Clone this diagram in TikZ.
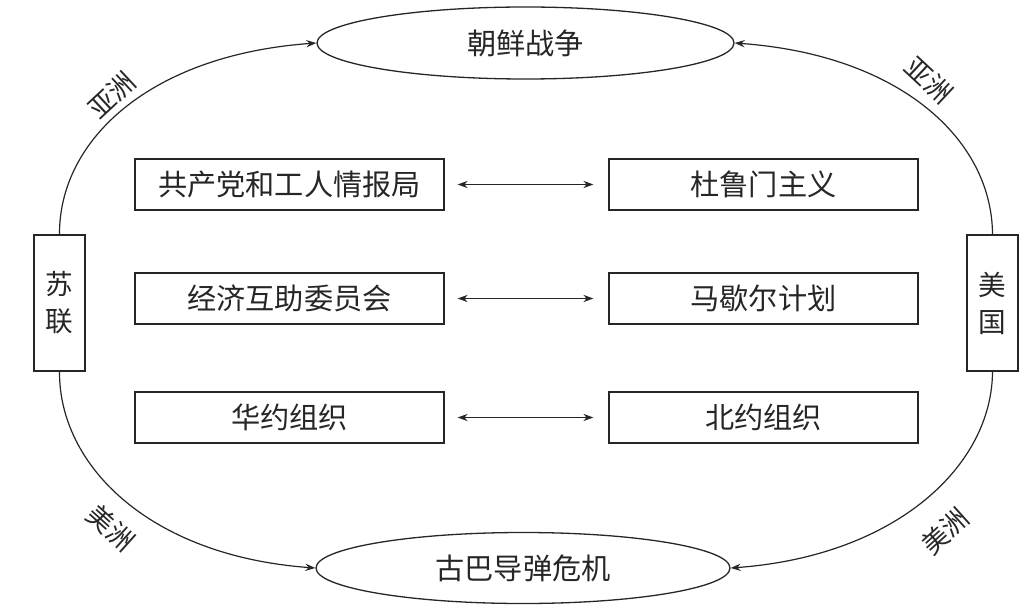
\documentclass[tikz,border=0pt]{standalone}
\usepackage{fontspec}
\newfontfamily\cjk{Noto Sans CJK SC}
\usetikzlibrary{shapes.geometric,arrows.meta}
\begin{document}
\begin{tikzpicture}[x=0.5pt,y=-0.5pt,
  every node/.style={text=black!85, font=\cjk\fontsize{14.6pt}{17pt}\selectfont},
  ell/.style={draw=black!85, ellipse, line width=0.65pt, inner sep=0pt},
  side/.style={draw=black!85, rectangle, line width=0.65pt, minimum width=25.5pt, minimum height=68pt, inner sep=0pt, align=center, font=\cjk\fontsize{13.8pt}{18.5pt}\selectfont},
  box/.style={draw=black!85, rectangle, line width=0.65pt, minimum width=154.5pt, minimum height=25.5pt, inner sep=0pt},
  lab/.style={inner sep=0pt, font=\cjk\fontsize{13.2pt}{14pt}\selectfont},
  arr/.style={draw=black!85, line width=0.6pt, -{Stealth[length=5pt,width=3.6pt]}},
  dbl/.style={draw=black!85, line width=0.6pt, {Stealth[length=5pt,width=3.6pt]}-{Stealth[length=5pt,width=3.6pt]}, shorten <=6.5pt, shorten >=7.5pt}
]
\useasboundingbox (0,0) rectangle (1032,609);
\node[ell, minimum width=208.5pt, minimum height=36pt] (korea) at (525.5,43) {朝鲜战争};
\node[ell, minimum width=207pt, minimum height=35.5pt] (cuba) at (523,568) {古巴导弹危机};
\node[side] (su) at (59.5,303) {苏\\联};
\node[side] (us) at (992.5,303) {美\\国};
\node[box] (l1) at (289.5,184.5) {共产党和工人情报局};
\node[box] (l2) at (289.5,298.5) {经济互助委员会};
\node[box] (l3) at (289.5,417.5) {华约组织};
\node[box] (r1) at (763.5,184.5) {杜鲁门主义};
\node[box] (r2) at (763.5,298.5) {马歇尔计划};
\node[box] (r3) at (763.5,417.5) {北约组织};
\draw[dbl] (l1) -- (r1);
\draw[dbl] (l2) -- (r2);
\draw[dbl] (l3) -- (r3);
\draw[arr] (su.north) .. controls (59,140) and (150,55) .. (korea.west);
\draw[arr] (us.north) .. controls (992,140) and (901,55) .. (korea.east);
\draw[arr] (su.south) .. controls (59,466) and (150,556) .. (cuba.west);
\draw[arr] (us.south) .. controls (992,466) and (896,556) .. (cuba.east);
\node[lab, rotate=43] (a1) at (112,95) {亚洲};
\node[lab, rotate=-43] (a2) at (929,80) {亚洲};
\node[lab, rotate=-42] (m1) at (111,528) {美洲};
\node[lab, rotate=42] (m2) at (945,531) {美洲};
\end{tikzpicture}
\end{document}
